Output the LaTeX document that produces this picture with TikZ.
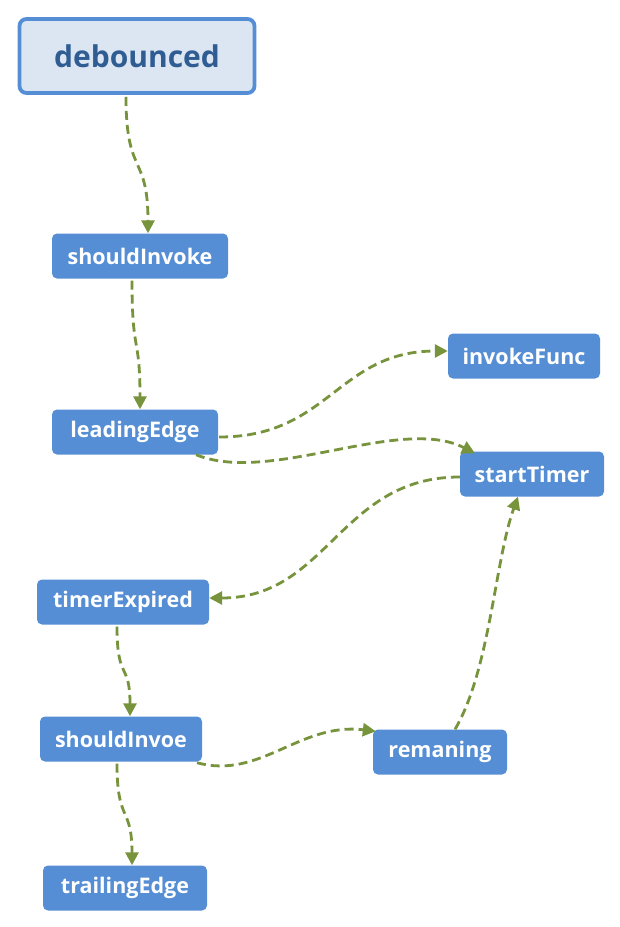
\documentclass[tikz,border=0pt]{standalone}
\usepackage{fontspec}
\setmainfont{Open Sans}
\usetikzlibrary{arrows.meta}
\definecolor{boxblue}{HTML}{558ED5}
\definecolor{lightblue}{HTML}{DCE6F2}
\definecolor{titleblue}{HTML}{2F5D93}
\definecolor{edgegreen}{HTML}{77933C}
\tikzset{
  stepbox/.style={fill=boxblue, draw=none, rounded corners=5pt, text=white,
    font=\fontsize{21.5}{24}\selectfont\bfseries, minimum height=45pt, inner sep=0pt},
  rootbox/.style={fill=lightblue, draw=boxblue, line width=3.8pt, rounded corners=7pt,
    text=titleblue, font=\fontsize{30}{34}\selectfont\bfseries, inner sep=0pt},
  link/.style={draw=edgegreen, line width=2.8pt, dash pattern=on 9pt off 5pt,
    -{Triangle[length=13pt,width=13pt]}}
}
\begin{document}
\begin{tikzpicture}[x=1pt,y=-1pt]
\useasboundingbox (0,0) rectangle (620,927);
\node[rootbox, minimum width=235pt, minimum height=74pt] (deb) at (137,56) {debounced};
\node[stepbox, minimum width=176pt] (si) at (140,256) {shouldInvoke};
\node[stepbox, minimum width=166pt] (le) at (135,432) {leadingEdge};
\node[stepbox, minimum width=152pt] (if) at (524,356) {invokeFunc};
\node[stepbox, minimum width=144pt] (st) at (532,474) {startTimer};
\node[stepbox, minimum width=172pt] (te) at (123,602) {timerExpired};
\node[stepbox, minimum width=162pt] (sv) at (121,739) {shouldInvoe};
\node[stepbox, minimum width=134pt] (rm) at (440,752) {remaning};
\node[stepbox, minimum width=164pt] (tr) at (125,888) {trailingEdge};

\draw[link] ([xshift=-11pt,yshift=-2pt]deb.south) .. controls +(0,80) and +(0,-80) .. ([xshift=8pt]si.north);
\draw[link] ([xshift=-8pt,yshift=-2pt]si.south) .. controls +(0,75) and +(0,-75) .. ([xshift=5pt]le.north);
\draw[link] ([yshift=-5pt,xshift=1pt]le.east) .. controls +(110,0) and +(-110,0) .. ([yshift=5pt]if.west);
\draw[link] ([xshift=61pt]le.south) .. controls (270,485) and (400,415) .. ([xshift=-57pt,yshift=-2pt]st.north);
\draw[link] ([yshift=-3pt]st.west) .. controls (340,477) and (328,598) .. ([yshift=4pt]te.east);
\draw[link] ([xshift=-6pt,yshift=-2pt]te.south) .. controls +(0,55) and +(0,-55) .. ([xshift=9pt]sv.north);
\draw[link] ([xshift=-4pt,yshift=-2pt]sv.south) .. controls +(0,60) and +(0,-60) .. ([xshift=7pt]tr.north);
\draw[link] ([xshift=76pt,yshift=-1pt]sv.south) .. controls (260,780) and (300,722) .. ([xshift=3pt,yshift=-2pt]rm.north west);
\draw[link] ([xshift=15pt]rm.north) .. controls (490,670) and (495,560) .. ([xshift=-14pt]st.south);
\end{tikzpicture}
\end{document}
